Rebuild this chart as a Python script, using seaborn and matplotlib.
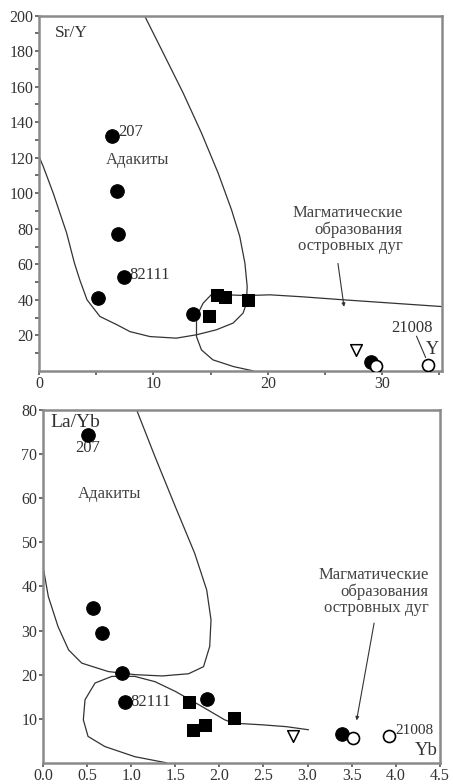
import pandas as pd
import matplotlib
matplotlib.use('Agg')
import matplotlib.pyplot as plt
import seaborn as sns

sns.set_style('ticks')
plt.rcParams['font.family'] = ['Liberation Serif', 'DejaVu Serif']

# --- Sr/Y vs Y (top) ---
sry_circ_x = [6.4, 6.85, 6.95, 7.4, 5.2, 13.5, 29.0]
sry_circ_y = [132, 101, 77, 53, 41, 32, 5]
sry_sq_x = [14.9, 15.6, 16.3, 18.3]
sry_sq_y = [31, 42.5, 41.5, 40]
sry_open_x = [29.5, 34.0]
sry_open_y = [2.5, 3.5]
sry_tri_x = [27.7]
sry_tri_y = [12]

# adakite field boundary
sry_adak_x = [9.26, 10.86, 12.6, 14.2, 15.66, 16.83, 17.55, 18.0, 18.2, 18.14, 17.84, 16.97, 15.5, 13.77,
              12.0, 9.7, 7.95, 6.8, 5.33, 4.2, 3.58, 3.1, 2.42, 1.25, 0.38, 0.0]
sry_adak_y = [199.6, 179, 156.5, 134, 111.4, 90.7, 75.7, 60.7, 47.5, 38.1, 32.5, 26.9, 23.1, 20.3,
              18.4, 19.3, 22.1, 26, 30.6, 40, 51, 60.7, 77.6, 100, 115, 120.7]
# island arc field boundary
sry_arc_x = [35.2, 30.0, 26.6, 23.0, 20.2, 18.14, 16.4, 15.2, 14.35, 13.77, 13.77, 14.2, 15.2, 17.0, 18.7]
sry_arc_y = [36.2, 38.5, 40.0, 41.7, 42.8, 42.4, 42.8, 43.8, 38.1, 30.6, 19.3, 11.8, 6.2, 2.4, 0.0]

# --- La/Yb vs Yb (bottom) ---
lay_circ_x = [0.51, 0.57, 0.665, 0.90, 0.93, 1.86, 3.39]
lay_circ_y = [74.4, 35.0, 29.5, 20.3, 13.7, 14.4, 6.6]
lay_sq_x = [1.65, 1.70, 1.84, 2.16]
lay_sq_y = [13.9, 7.5, 8.6, 10.1]
lay_open_x = [3.52, 3.92]
lay_open_y = [5.6, 6.0]
lay_tri_x = [2.84]
lay_tri_y = [6.0]

lay_adak_x = [1.062, 1.27, 1.50, 1.72, 1.856, 1.905, 1.89, 1.82, 1.65, 1.35, 1.04, 0.74, 0.44, 0.29,
              0.17, 0.06, 0.0]
lay_adak_y = [80, 69.4, 58.1, 47.5, 39.2, 32.4, 26.4, 21.8, 20.2, 19.7, 20.0, 20.7, 22.6, 25.6,
              30.9, 37.7, 44.5]
lay_arc_x = [3.01, 2.76, 2.5, 2.16, 2.06, 1.80, 1.50, 1.27, 1.04, 0.78, 0.59, 0.476, 0.457, 0.51,
             0.70, 1.04, 1.40]
lay_arc_y = [7.5, 8.2, 8.6, 9.0, 9.75, 12.8, 16.2, 18.4, 19.6, 19.6, 18.1, 14.3, 9.75, 6.0,
             3.7, 1.4, 0.0]

label_main = 'Магматические\nобразования\nостровных дуг'
label_adak = 'Адакиты'

fig = plt.figure(figsize=(4.53, 7.84), dpi=100)
ax1 = fig.add_axes([0.086, 0.527, 0.889, 0.453])
ax2 = fig.add_axes([0.095, 0.027, 0.876, 0.450])

line_kw = dict(color='#333333', linewidth=0.9, sort=False, estimator=None)
tick_fs = 11.5
txt_fs = 12


def draw_points(ax, cx, cy, sx, sy, ox, oy, tx, ty):
    sns.scatterplot(x=cx, y=cy, ax=ax, marker='o', s=95, color='black', edgecolor='black', zorder=5)
    sns.scatterplot(x=sx, y=sy, ax=ax, marker='s', s=85, color='black', edgecolor='black', zorder=5)
    sns.scatterplot(x=ox, y=oy, ax=ax, marker='o', s=75, color='white', edgecolor='black', linewidth=1.2, zorder=6)
    sns.scatterplot(x=tx, y=ty, ax=ax, marker='v', s=70, color='white', edgecolor='black', linewidth=1.1, zorder=6)


def style_axes(ax):
    for side in ['left', 'bottom', 'top', 'right']:
        ax.spines[side].set_color('#8a8a8a')
        ax.spines[side].set_linewidth(1.8)
    ax.tick_params(axis='both', colors='#555555', labelcolor='#333333', labelsize=tick_fs,
                   length=3, width=1.2, pad=1)
    ax.tick_params(which='minor', colors='#555555', length=3, width=1.2)
    ax.set_xlabel('')
    ax.set_ylabel('')


# Top panel
sns.lineplot(x=sry_adak_x, y=sry_adak_y, ax=ax1, **line_kw)
sns.lineplot(x=sry_arc_x, y=sry_arc_y, ax=ax1, **line_kw)
draw_points(ax1, sry_circ_x, sry_circ_y, sry_sq_x, sry_sq_y, sry_open_x, sry_open_y, sry_tri_x, sry_tri_y)
ax1.set_xlim(0, 35.2)
ax1.set_ylim(0, 200)
ax1.set_xticks([0, 10, 20, 30])
ax1.set_xticks([5, 15, 25, 35], minor=True)
ax1.set_yticks(range(20, 201, 20))
ax1.set_yticks(range(10, 200, 20), minor=True)
style_axes(ax1)

ax1.text(1.4, 190, 'Sr/Y', fontsize=12.5, color='#333333', va='center')
ax1.text(6.9, 134.5, '207', fontsize=txt_fs, color='#333333', va='center')
ax1.text(8.6, 118.5, label_adak, fontsize=txt_fs, color='#444444', ha='center', va='center')
ax1.text(7.9, 54, '82111', fontsize=txt_fs, color='#333333', va='center')
ax1.text(31.8, 79.5, label_main, fontsize=txt_fs, color='#444444', ha='right', va='center',
         linespacing=1.0)
ax1.annotate('', xy=(26.7, 34.5), xytext=(26.1, 62),
             arrowprops=dict(arrowstyle='-|>', color='#333333', lw=0.8, mutation_scale=5))
ax1.text(32.6, 24, '21008', fontsize=txt_fs, color='#333333', ha='center', va='center')
ax1.plot([33.0, 33.8], [19.5, 7.5], color='#333333', lw=0.8)
ax1.text(34.4, 12, 'Y', fontsize=13, color='#333333', ha='center', va='center')

# Bottom panel
sns.lineplot(x=lay_adak_x, y=lay_adak_y, ax=ax2, **line_kw)
sns.lineplot(x=lay_arc_x, y=lay_arc_y, ax=ax2, **line_kw)
draw_points(ax2, lay_circ_x, lay_circ_y, lay_sq_x, lay_sq_y, lay_open_x, lay_open_y, lay_tri_x, lay_tri_y)
ax2.set_xlim(0, 4.5)
ax2.set_ylim(0, 80)
ax2.set_xticks([0.0, 0.5, 1.0, 1.5, 2.0, 2.5, 3.0, 3.5, 4.0, 4.5])
ax2.set_xticklabels(['0.0', '0.5', '1.0', '1.5', '2.0', '2.5', '3.0', '3.5', '4.0', '4.5'])
ax2.set_yticks(range(10, 81, 10))
style_axes(ax2)

ax2.text(0.08, 77.2, 'La/Yb', fontsize=14, color='#333333', va='center')
ax2.text(0.51, 71.3, '207', fontsize=txt_fs, color='#333333', ha='center', va='center')
ax2.text(0.76, 61, label_adak, fontsize=txt_fs, color='#444444', ha='center', va='center')
ax2.text(0.99, 13.7, '82111', fontsize=txt_fs, color='#333333', va='center')
ax2.text(4.37, 38.8, label_main, fontsize=txt_fs, color='#444444', ha='right', va='center',
         linespacing=1.0)
ax2.annotate('', xy=(3.55, 9.0), xytext=(3.76, 32.3),
             arrowprops=dict(arrowstyle='-|>', color='#333333', lw=0.8, mutation_scale=5))
ax2.text(4.0, 7.4, '21008', fontsize=11, color='#333333', ha='left', va='center')
ax2.text(4.34, 2.9, 'Yb', fontsize=13.5, color='#333333', ha='center', va='center')

fig.savefig('out.png', dpi=100)
plt.close(fig)
